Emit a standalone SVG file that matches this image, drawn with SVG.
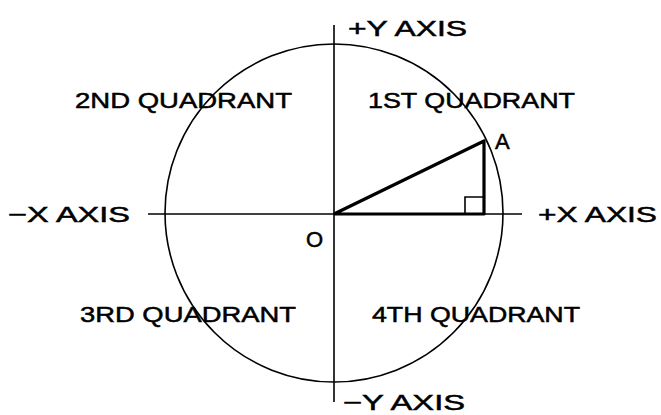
<svg xmlns="http://www.w3.org/2000/svg" width="661" height="415" viewBox="0 0 661 415">
<style>
.t{font-family:"Liberation Sans","DejaVu Sans",sans-serif;font-size:22px;fill:#000;stroke:#000;stroke-width:0.5}
.thin{stroke:#000;stroke-width:1.6;fill:none}
.thick{stroke:#000;stroke-width:3.2;fill:none;stroke-linejoin:round}
</style>
<rect width="661" height="415" fill="#fff"/>
<g id="circle"><circle class="thin" cx="334" cy="213" r="169"/></g>
<g id="connectors">
<line class="thin" x1="334" y1="25" x2="334" y2="402"/>
<line class="thin" x1="148" y1="214" x2="522" y2="214"/>
<polyline class="thick" points="334,214 484,141 484,214 334,214"/>
<polyline class="thin" points="465,214 465,197 484,197"/>
</g>
<g id="labels">
<text class="t" x="348" y="36" textLength="119" lengthAdjust="spacingAndGlyphs">+Y AXIS</text>
<text class="t" x="75" y="108" textLength="217" lengthAdjust="spacingAndGlyphs">2ND QUADRANT</text>
<text class="t" x="368" y="108" textLength="207" lengthAdjust="spacingAndGlyphs">1ST QUADRANT</text>
<text class="t" x="495" y="149">A</text>
<text class="t" x="8" y="222" textLength="122" lengthAdjust="spacingAndGlyphs">−X AXIS</text>
<text class="t" x="538" y="222" textLength="119" lengthAdjust="spacingAndGlyphs">+X AXIS</text>
<text class="t" x="306" y="247">O</text>
<text class="t" x="80" y="322" textLength="216" lengthAdjust="spacingAndGlyphs">3RD QUADRANT</text>
<text class="t" x="372" y="322" textLength="208" lengthAdjust="spacingAndGlyphs">4TH QUADRANT</text>
<text class="t" x="343" y="410" textLength="122" lengthAdjust="spacingAndGlyphs">−Y AXIS</text>
</g>
</svg>
